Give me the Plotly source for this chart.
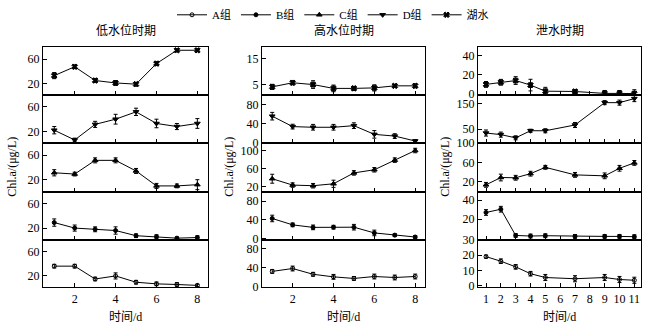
import plotly.graph_objects as go

# ---------------- data ----------------
x_low = [1, 2, 3, 4, 5, 6, 7, 8]
x_high = [1, 2, 3, 4, 5, 6, 7, 8]
x_flood = [1, 2, 3, 4, 5, 7, 9, 10, 11]

low_lake = [33, 47.5, 25, 21, 19, 52.7, 74.5, 74.5]
low_lake_err = [5, 3, 3, 4, 3, 3, 2, 2]
low_D = [22, 6, 31.5, 40, 52, 33, 28, 33]
low_D_err = [6, 3, 5, 8, 6, 7, 5, 8]
low_C = [31.6, 29.5, 51.5, 51.5, 34.5, 10.5, 10.5, 12.5]
low_C_err = [5, 3, 4, 4, 4, 4, 3, 8]
low_B = [29, 20, 18, 16, 7.5, 6, 3.5, 4.5]
low_B_err = [6, 5, 4, 6, 3, 3, 2, 3]
low_A = [36, 36, 15, 20, 9.7, 7, 6, 4.5]
low_A_err = [3, 3, 3, 5, 3, 3, 3, 2]

high_lake = [4.0, 5.6, 4.9, 3.4, 3.4, 3.6, 4.4, 4.4]
high_lake_err = [1, 0.8, 1.5, 1.3, 0.8, 1.2, 0.5, 0.8]
high_D = [55.4, 33.4, 32, 32, 35.4, 17, 13.4, 3]
high_D_err = [8, 5, 6, 6, 6, 8, 5, 3]
high_C = [37, 22.8, 21.4, 25.7, 50, 57, 78.5, 100]
high_C_err = [10, 5, 5, 8, 5, 5, 5, 5]
high_B = [42.7, 29, 23.6, 24, 24, 11.7, 7, 3]
high_B_err = [7, 4, 5, 4, 6, 6, 3, 3]
high_A = [32.6, 38.6, 26.6, 21.3, 18, 22, 20, 22]
high_A_err = [4, 5, 4, 5, 4, 5, 5, 5]

flood_lake = [10, 12.2, 14, 9.3, 3, 2.7, 0.7, 0.7, 0.5]
flood_lake_err = [3, 3, 4, 6, 4, 2, 3, 3, 4]
flood_D = [35, 28.7, 16, 44, 44, 66.7, 155, 155, 171]
flood_D_err = [12, 10, 8, 6, 8, 10, 8, 10, 12]
flood_C = [13.3, 28.5, 28, 36.5, 49.7, 34, 32, 47.7, 58.9]
flood_C_err = [5, 7, 5, 5, 4, 5, 6, 6, 5]
flood_B = [27, 30.4, 3, 2.4, 2.7, 2, 2, 2, 1.7]
flood_B_err = [3, 3, 2, 2, 2, 2, 2, 2, 2]
flood_A = [19, 16, 12.3, 7.8, 5.3, 4.5, 5.3, 4, 3.5]
flood_A_err = [1, 1.5, 1.5, 1.5, 2, 2, 2, 2, 2]

group_names = ["湖水", "D组", "C组", "B组", "A组"]  # rows top -> bottom
period_titles = ["低水位时期", "高水位时期", "泄水时期"]
x_title = "时间/d"
y_title = "Chl.a/(μg/L)"

columns = [
    (x_low, [(low_lake, low_lake_err), (low_D, low_D_err), (low_C, low_C_err),
             (low_B, low_B_err), (low_A, low_A_err)]),
    (x_high, [(high_lake, high_lake_err), (high_D, high_D_err), (high_C, high_C_err),
              (high_B, high_B_err), (high_A, high_A_err)]),
    (x_flood, [(flood_lake, flood_lake_err), (flood_D, flood_D_err), (flood_C, flood_C_err),
               (flood_B, flood_B_err), (flood_A, flood_A_err)]),
]

# ---------------- styling ----------------
W, H = 649, 326
FONT = "Liberation Serif, Noto Sans CJK SC"
symbols = ["x", "triangle-down", "triangle-up", "circle", "circle-open"]
sizes = [5, 5, 5, 4, 4]
legend_rank = [5, 4, 3, 2, 1]

col_px = [(43, 208), (262, 425), (478, 641)]
row_px = [(42, 92), (92, 142), (142, 193), (193, 243), (243, 293)]

x_ranges = [[0.45, 8.52], [0.5, 8.48], [0.46, 11.45]]
x_ticks = [dict(tick0=0, dtick=2), dict(tick0=0, dtick=2), dict(tick0=1, dtick=1)]

y_ranges = [
    [[1.2, 79.5]] * 5,
    [[0.8, 19.5], [-1, 100], [8, 117], [-2.5, 100], [-0.6, 98.6]],
    [[-1, 48.5], [-4, 185], [-1, 100.5], [-1.3, 48.7], [-1.2, 30.2]],
]
y_tickvals = [
    [[20, 60]] * 5,
    [[5, 15], [0, 40, 80], [20, 60, 100], [0, 40, 80], [0, 40, 80]],
    [[0, 20, 40], [50, 150], [20, 60, 100], [20, 40], [0, 10, 20, 30]],
]

fig = go.Figure()
layout = {}
idx = 0
for c, (xs, series) in enumerate(columns):
    for r, (ys, es) in enumerate(series):
        idx += 1
        xa = "x" if idx == 1 else f"x{idx}"
        ya = "y" if idx == 1 else f"y{idx}"
        fig.add_trace(go.Scatter(
            x=xs, y=ys, xaxis=xa, yaxis=ya,
            mode="lines+markers",
            name=group_names[r],
            showlegend=(c == 0),
            legendrank=legend_rank[r],
            line=dict(color="black", width=1),
            marker=dict(symbol=symbols[r], size=sizes[r], color="black",
                        line=dict(color="black", width=1)),
            error_y=dict(type="data", array=es, color="black", thickness=1, width=2),
        ))
        x0, x1 = col_px[c]
        y0, y1 = row_px[r]
        xkey = "xaxis" if idx == 1 else f"xaxis{idx}"
        ykey = "yaxis" if idx == 1 else f"yaxis{idx}"
        layout[xkey] = dict(
            domain=[x0 / W, x1 / W], anchor=ya, range=x_ranges[c],
            tickmode="linear", **x_ticks[c],
            showticklabels=(r == 4), ticks="inside", ticklen=4, tickwidth=1,
            tickcolor="black",
            showline=True, mirror=True, linecolor="black", linewidth=1,
            showgrid=False, zeroline=False,
            tickfont=dict(family=FONT, size=12, color="black"),
        )
        layout[ykey] = dict(
            domain=[1 - y1 / H, 1 - y0 / H], anchor=xa, range=y_ranges[c][r],
            tickmode="array", tickvals=y_tickvals[c][r],
            ticks="inside", ticklen=4, tickwidth=1, tickcolor="black",
            showline=True, mirror=True, linecolor="black", linewidth=1,
            showgrid=False, zeroline=False,
            tickfont=dict(family=FONT, size=12, color="black"),
        )

annotations = []
for c in range(3):
    cx = (col_px[c][0] + col_px[c][1]) / 2 / W
    annotations.append(dict(text=period_titles[c], x=cx, y=1 - 25 / H, xref="paper", yref="paper",
                            showarrow=False, font=dict(family=FONT, size=12, color="black"),
                            xanchor="center", yanchor="middle"))
    annotations.append(dict(text=x_title, x=cx, y=1 - 324 / H, xref="paper", yref="paper",
                            showarrow=False, font=dict(family=FONT, size=12, color="black"),
                            xanchor="center", yanchor="middle"))
ylab_x = [12, 229, 445]
for c in range(3):
    annotations.append(dict(text=y_title, x=ylab_x[c] / W, y=1 - 167 / H, xref="paper", yref="paper",
                            showarrow=False, textangle=-90,
                            font=dict(family=FONT, size=12, color="black"),
                            xanchor="center", yanchor="middle"))

fig.update_layout(
    **layout,
    annotations=annotations,
    width=W, height=H,
    margin=dict(l=0, r=0, t=0, b=0),
    paper_bgcolor="white", plot_bgcolor="white",
    showlegend=True,
    legend=dict(orientation="h", x=333 / W, xanchor="center", y=1 + 7 / H, yanchor="top",
                font=dict(family=FONT, size=11, color="black"),
                itemwidth=30, tracegroupgap=0, bgcolor="rgba(0,0,0,0)",
                traceorder="normal", itemclick=False),
    font=dict(family=FONT, color="black"),
)

fig.write_html("out.html")
